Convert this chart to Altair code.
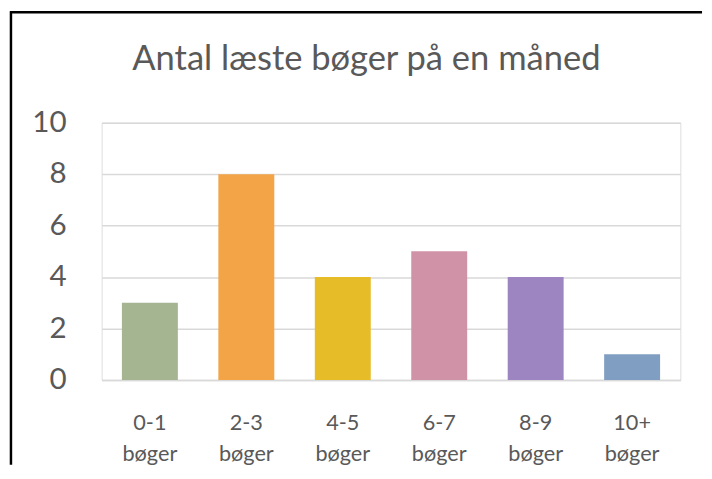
import altair as alt
import pandas as pd

categories = ["0-1 bøger", "2-3 bøger", "4-5 bøger", "6-7 bøger", "8-9 bøger", "10+ bøger"]
values = [3, 8, 4, 5, 4, 1]
colors = ["#A5B592", "#F3A447", "#E7BC29", "#D092A7", "#9C85C0", "#809EC2"]
y_ticks = [0, 2, 4, 6, 8, 10]

df = pd.DataFrame({"kategori": categories, "antal": values, "farve": colors})

TEXT = "#595959"
GRID = "#D9D9D9"
FONT = "Lato"

bars = alt.Chart(df).mark_bar().encode(
    x=alt.X(
        "kategori:N", sort=categories, title=None,
        scale=alt.Scale(paddingInner=0.42, paddingOuter=0.21),
        axis=alt.Axis(labelAngle=0, labelExpr="split(datum.label, ' ')", ticks=False,
                      domainColor=GRID, domainWidth=1.5, labelFontSize=22, labelColor=TEXT,
                      labelPadding=33, labelLineHeight=32, grid=False, labelFont=FONT),
    ),
    y=alt.Y(
        "antal:Q", title=None, scale=alt.Scale(domain=[0, 10]),
        axis=alt.Axis(values=y_ticks, domain=False, ticks=False, gridColor=GRID, gridWidth=1.5,
                      labelFontSize=30, labelColor=TEXT, labelPadding=36, labelFont=FONT),
    ),
    color=alt.Color("farve:N", scale=None),
)

frame_df = pd.DataFrame({"k": [0]})
left_line = alt.Chart(frame_df).mark_rule(color="black", strokeWidth=2.5).encode(
    x=alt.value(-92), y=alt.value(-113), y2=alt.value(347)
)
top_line = alt.Chart(frame_df).mark_rule(color="black", strokeWidth=2.5).encode(
    x=alt.value(-93), x2=alt.value(609), y=alt.value(-112)
)

chart = alt.layer(bars, left_line, top_line).properties(
    width=587, height=261,
    padding={"left": 0, "top": -2, "right": 0, "bottom": 0},
    title=alt.TitleParams("Antal læste bøger på en måned", fontSize=35, font=FONT, color=TEXT,
                          fontWeight="normal", anchor="middle", dx=-25, offset=-68),
).configure_view(stroke="transparent").configure(background="white")

chart.save("out.html", embed_options={"renderer": "svg", "actions": False})
